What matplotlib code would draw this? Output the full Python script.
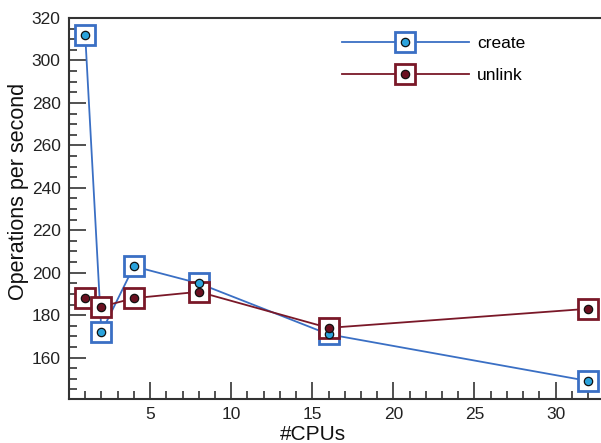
import matplotlib
matplotlib.use("Agg")
import matplotlib.pyplot as plt
from matplotlib.ticker import MultipleLocator

plt.rcParams['font.family'] = ['Liberation Sans', 'DejaVu Sans']

# datos
cpus = [1, 2, 4, 8, 16, 32]
create_ops = [312, 172, 203, 195, 171, 149]
unlink_ops = [188, 184, 188, 191, 174, 183]
xticks = [5, 10, 15, 20, 25, 30]
yticks = [160, 180, 200, 220, 240, 260, 280, 300, 320]

# colores
azul = '#3a6fc4'
azul_punto = '#2ba3dc'
rojo = '#7a1828'
rojo_punto = '#6a1020'

fig = plt.figure(figsize=(6.01, 4.43), dpi=100)
ax = fig.add_axes([69 / 601, 1 - 399 / 443, 532 / 601, 381 / 443])

series = [
    (create_ops, azul, azul_punto, 'create'),
    (unlink_ops, rojo, rojo_punto, 'unlink'),
]
handles = []
labels = []
for valores, col, col_punto, nombre in series:
    l1, = ax.plot(cpus, valores, color=col, lw=1.3, marker='s', ms=14.5,
                  mfc='white', mec=col, mew=2.0, zorder=3)
    l2, = ax.plot(cpus, valores, ls='none', marker='o', ms=6,
                  mfc=col_punto, mec='#111111', mew=0.9, zorder=4)
    handles.append((l1, l2))
    labels.append(nombre)

ax.set_xlim(0, 32.8)
ax.set_ylim(140.5, 320)
ax.set_xticks(xticks)
ax.xaxis.set_minor_locator(MultipleLocator(1))
ax.set_yticks(yticks)
ax.yaxis.set_minor_locator(MultipleLocator(5))

ax.tick_params(which='both', direction='in', width=1.2, color='#333333',
               labelsize=12.5, labelcolor='#222222')
ax.tick_params(which='major', length=12, pad=6)
ax.tick_params(which='minor', length=6)
ax.tick_params(top=False, right=False)

for lado in ['left', 'bottom', 'top']:
    ax.spines[lado].set_color('#333333')
    ax.spines[lado].set_linewidth(1.5)
ax.spines['right'].set_visible(False)

ax.set_xlabel('#CPUs', fontsize=15, color='#111111')
ax.set_ylabel('Operations per second', fontsize=15.5, color='#111111')
ax.xaxis.label.set_va('baseline')
ax.xaxis.set_label_coords(0.458, -0.1076)
ax.yaxis.set_label_coords(-0.076, 0.546)

ax.legend(handles, labels, loc='upper left', bbox_to_anchor=(0.483, 0.993),
          frameon=False, handlelength=7.36, labelspacing=0.95, fontsize=12.5,
          numpoints=1, handletextpad=0.46)

fig.savefig('out.png', dpi=100, facecolor='white')
